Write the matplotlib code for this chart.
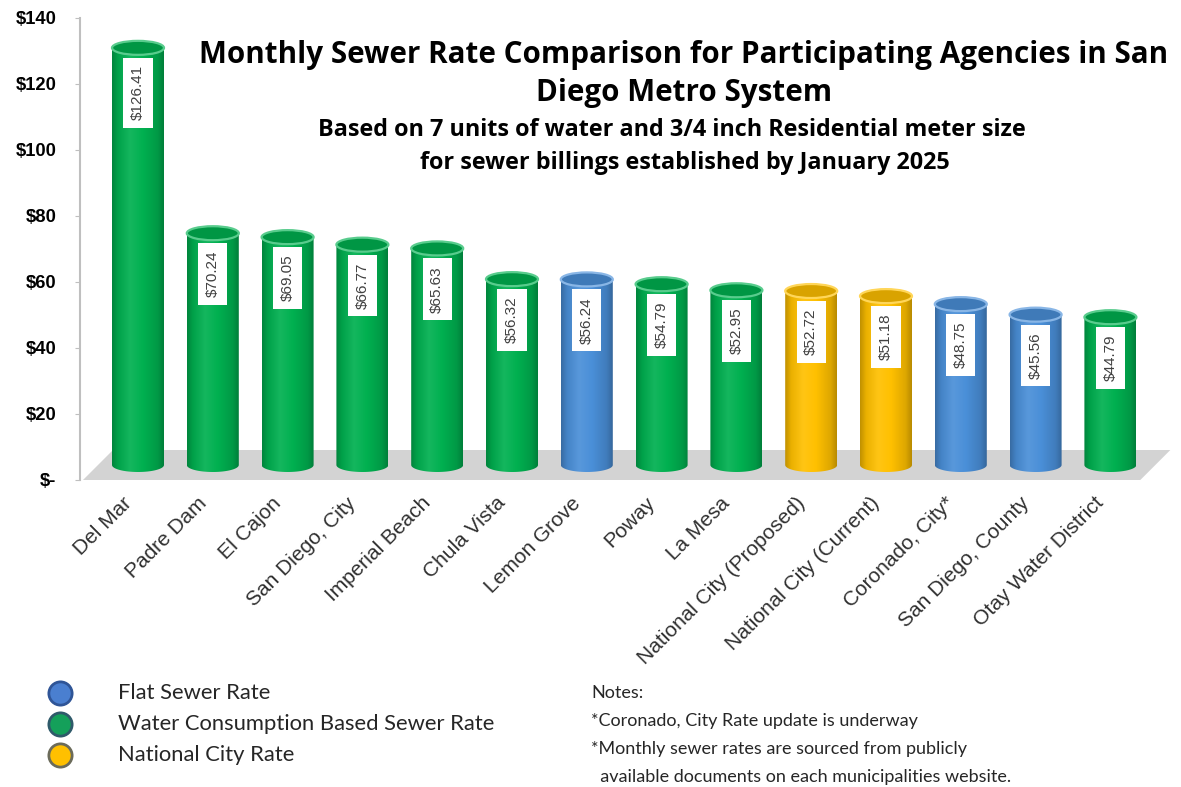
import numpy as np
import matplotlib
matplotlib.use('Agg')
import matplotlib.pyplot as plt
from matplotlib.patches import Ellipse, Polygon, PathPatch
from matplotlib.path import Path
from matplotlib.colors import LinearSegmentedColormap, to_rgb
from matplotlib.transforms import ScaledTranslation

# ---------------- data ----------------
categories = ["Del Mar", "Padre Dam", "El Cajon", "San Diego, City", "Imperial Beach",
              "Chula Vista", "Lemon Grove", "Poway", "La Mesa", "National City (Proposed)",
              "National City (Current)", "Coronado, City*", "San Diego, County",
              "Otay Water District"]
rates = [126.41, 70.24, 69.05, 66.77, 65.63, 56.32, 56.24, 54.79, 52.95, 52.72,
         51.18, 48.75, 45.56, 44.79]
rate_types = ["water", "water", "water", "water", "water", "water", "flat", "water",
              "water", "national", "national", "flat", "flat", "water"]
type_order = ["flat", "water", "national"]
type_labels = ["Flat Sewer Rate", "Water Consumption Based Sewer Rate", "National City Rate"]
yticks = [0, 20, 40, 60, 80, 100, 120, 140]
ytick_labels = ["$-", "$20", "$40", "$60", "$80", "$100", "$120", "$140"]

title_lines = ["Monthly Sewer Rate Comparison for Participating Agencies in San",
               "Diego Metro System"]
subtitle_lines = ["Based on 7 units of water and 3/4 inch Residential meter size",
                  "for sewer billings established by January 2025"]
notes = ["Notes:", "*Coronado, City Rate update is underway",
         "*Monthly sewer rates are sourced from publicly",
         "  available documents on each municipalities website."]

# ---------------- styles ----------------
body_colors = {"flat": "#4a8fd8", "water": "#00b050", "national": "#ffc000"}
legend_face = {"flat": "#4a7fd0", "water": "#14a05a", "national": "#ffc000"}
legend_edge = {"flat": "#2f5597", "water": "#2f5a6a", "national": "#6b6b5a"}

W, H = 1181, 787
fig = plt.figure(figsize=(W / 100, H / 100), dpi=100)
fig.patch.set_facecolor("white")

# background overlay in pixel coords
bg = fig.add_axes([0, 0, 1, 1])
bg.set_xlim(0, W)
bg.set_ylim(H, 0)
bg.axis("off")

ax_left_px, ax_right_px, ax_top_px, ax_bot_px = 80, 1176, 18, 480
ax = fig.add_axes([ax_left_px / W, (H - ax_bot_px) / H,
                   (ax_right_px - ax_left_px) / W, (ax_bot_px - ax_top_px) / H])
ax.set_facecolor("none")

spacing_px = 74.8
first_px = 138
xlim = ((ax_left_px - first_px) / spacing_px, (ax_right_px - first_px) / spacing_px)
ylim = (0, 140)

px_per_x = spacing_px
px_per_y = (ax_bot_px - ax_top_px) / 140.0

depth = 30 / px_per_y        # floor depth in y-units
skew = 30 / px_per_x         # floor skew in x-units
base = depth / 2
bar_w = 52 / px_per_x
ell_h = 14 / px_per_y

# floor
fx0, fx1 = xlim[0] + 3 / px_per_x, 13.4
floor = Polygon([(fx0, 0), (fx1, 0), (fx1 + skew, depth), (fx0 + skew, depth)],
                closed=True, facecolor="#d3d3d3", edgecolor="none", zorder=1)
ax.add_patch(floor)


def shade(c, f):
    r = np.array(to_rgb(c))
    if f >= 1:
        return tuple(r + (1 - r) * (f - 1))
    return tuple(r * f)


for i, (v, t) in enumerate(zip(rates, rate_types)):
    c = body_colors[t]
    cmap = LinearSegmentedColormap.from_list(
        "c%d" % i,
        [(0.0, shade(c, 0.75)), (0.12, shade(c, 0.92)), (0.35, shade(c, 1.08)),
         (0.6, shade(c, 1.0)), (0.88, shade(c, 0.87)), (1.0, shade(c, 0.72))])
    cx = i
    top = base + v
    x0, x1 = cx - bar_w / 2, cx + bar_w / 2
    th = np.linspace(np.pi, 2 * np.pi, 40)
    bx = cx + bar_w / 2 * np.cos(th)
    by = base + ell_h / 2 * np.sin(th)
    verts = [(x0, top)] + list(zip(bx, by)) + [(x1, top), (x0, top)]
    codes = [Path.MOVETO] + [Path.LINETO] * (len(verts) - 2) + [Path.CLOSEPOLY]
    body = PathPatch(Path(verts, codes), facecolor="none", edgecolor="none", zorder=3)
    ax.add_patch(body)
    grad = np.linspace(0, 1, 256).reshape(1, -1)
    im = ax.imshow(grad, cmap=cmap, aspect="auto", interpolation="bilinear",
                   extent=[x0, x1, base - ell_h / 2, top], zorder=3)
    im.set_clip_path(body)
    topell = Ellipse((cx, top), bar_w, ell_h, facecolor=shade(c, 0.85),
                     edgecolor=shade(c, 1.35), lw=1.6, zorder=4)
    ax.add_patch(topell)
    ax.text(cx, top - 5.3, "$%.2f" % v, rotation=90, ha="center", va="top",
            fontsize=11, color="#404040", family="Liberation Sans", zorder=6,
            bbox=dict(boxstyle="square,pad=0.5", facecolor="white", edgecolor="none"))

ax.set_xlim(*xlim)
ax.set_ylim(*ylim)
for s in ["top", "right", "bottom"]:
    ax.spines[s].set_visible(False)
ax.spines["left"].set_color("#bfbfbf")
ax.spines["left"].set_linewidth(1.5)
ax.set_yticks(yticks)
ax.set_yticklabels(ytick_labels, fontsize=13.2, fontweight="bold",
                   family="Liberation Sans")
ax.tick_params(axis="y", length=3.5, color="#bfbfbf", pad=13.5)
ax.set_xticks(range(len(categories)))
ax.set_xticklabels(categories, rotation=45, ha="right", rotation_mode="anchor",
                   fontsize=15, family="Liberation Sans", color="#303030")
ax.tick_params(axis="x", length=0, pad=4)
off = ScaledTranslation(-16 / 100, -8 / 100, fig.dpi_scale_trans)
for lbl in ax.get_xticklabels():
    lbl.set_transform(lbl.get_transform() + off)

# titles
fig.text(684 / W, 1 - 55 / H, title_lines[0], ha="center", va="center",
         fontsize=21.3, fontweight="bold", family="Open Sans")
fig.text(684 / W, 1 - 93 / H, title_lines[1], ha="center", va="center",
         fontsize=21.3, fontweight="bold", family="Open Sans")
fig.text(672 / W, 1 - 130 / H, subtitle_lines[0], ha="center", va="center",
         fontsize=16.8, fontweight="bold", family="Open Sans")
fig.text(685 / W, 1 - 163 / H, subtitle_lines[1], ha="center", va="center",
         fontsize=16.8, fontweight="bold", family="Open Sans")

# legend
for k, t in enumerate(type_order):
    yy = 693 + 31 * k
    bg.scatter([60], [yy], s=280, facecolor=legend_face[t], edgecolor=legend_edge[t],
               linewidth=2)
    bg.text(118, yy, type_labels[k], ha="left", va="center", fontsize=15.8,
            family="Lato", color="#262626")

# notes
for k, line in enumerate(notes):
    bg.text(591, 693 + 28 * k, line, ha="left", va="center", fontsize=13,
            family="Lato", color="#262626")

fig.savefig("out.png", dpi=100, facecolor="white")
